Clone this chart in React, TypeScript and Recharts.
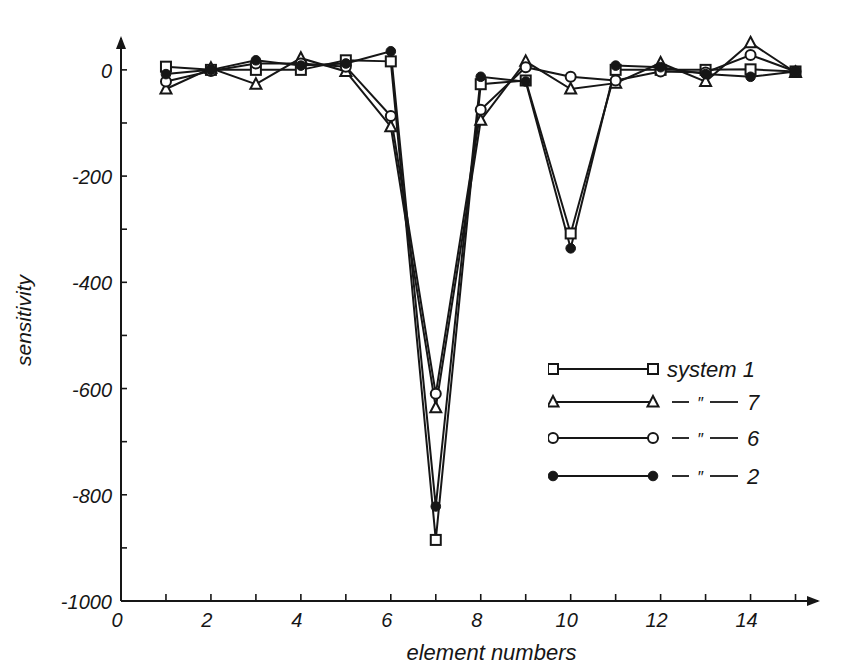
import React from 'react';
import { LineChart, Line, XAxis, YAxis } from 'recharts';

// element numbers along the x axis
const elements = [1, 2, 3, 4, 5, 6, 7, 8, 9, 10, 11, 12, 13, 14, 15];

// sensitivity, one list per system
const system1 = [6, 0, 0, 0, 18, 16, -885, -27, -20, -308, 0, 0, 0, 1, -3];
const system7 = [-36, 3, -27, 22, -3, -107, -636, -95, 16, -36, -25, 13, -22, 51, -5];
const system6 = [-22, -2, 12, 12, 6, -87, -610, -75, 5, -13, -20, -3, -5, 28, -3];
const system2 = [-8, 0, 18, 8, 12, 35, -822, -13, -22, -336, 8, 5, -8, -13, -3];

const xTicks = [0, 1, 2, 3, 4, 5, 6, 7, 8, 9, 10, 11, 12, 13, 14, 15];
const yTicks = [-1000, -900, -800, -700, -600, -500, -400, -300, -200, -100, 0];
const X_END = 15.5;
const Y_TOP = 60;

const legendRows = [
  { key: 's1', name: 'system 1', marker: 'square' },
  { key: 's7', name: '7', marker: 'triangle' },
  { key: 's6', name: '6', marker: 'circle' },
  { key: 's2', name: '2', marker: 'filled' },
];

const data = elements.map((e, i) => ({
  element: e,
  s1: system1[i],
  s7: system7[i],
  s6: system6[i],
  s2: system2[i],
}));

const INK = '#161616';
const FONT = "'Liberation Sans', Arial, sans-serif";

const Marker = ({ kind, cx, cy }: { kind: string; cx: number; cy: number }) => {
  if (kind === 'square')
    return <rect x={cx - 5} y={cy - 5} width={10} height={10} fill="#fff" stroke={INK} strokeWidth={2} />;
  if (kind === 'triangle')
    return <path d={`M${cx},${cy - 6} L${cx + 5.5},${cy + 4.5} L${cx - 5.5},${cy + 4.5} Z`} fill="#fff" stroke={INK} strokeWidth={2} />;
  if (kind === 'circle') return <circle cx={cx} cy={cy} r={5} fill="#fff" stroke={INK} strokeWidth={2} />;
  return <circle cx={cx} cy={cy} r={4.8} fill={INK} stroke={INK} strokeWidth={1} />;
};

const makeDot = (kind: string) => (p: any) => (
  <Marker key={`${kind}-${p.index}`} kind={kind} cx={p.cx} cy={p.cy} />
);

const XTick = (props: any) => {
  const { x, y, payload } = props;
  const v = payload.value;
  if (v === X_END) return <path d={`M${x + 2},${y} l-13,-5 l0,10 z`} fill={INK} />;
  return (
    <g>
      {v !== 0 && <line x1={x} y1={y} x2={x} y2={y - 7} stroke={INK} strokeWidth={1.6} />}
      {v % 2 === 0 && (
        <text x={x - 4} y={y + 26} textAnchor="middle" fontFamily={FONT} fontStyle="italic" fontSize={20} fill={INK}>
          {v}
        </text>
      )}
    </g>
  );
};

const YTick = (props: any) => {
  const { x, y, payload } = props;
  const v = payload.value;
  if (v === Y_TOP) return <path d={`M${x},${y - 2} l-5,13 l10,0 z`} fill={INK} />;
  return (
    <g>
      {v !== -1000 && <line x1={x} y1={y} x2={x + 6} y2={y} stroke={INK} strokeWidth={1.6} />}
      {v % 200 === 0 && (
        <text x={x - 9} y={y + 8} textAnchor="end" fontFamily={FONT} fontStyle="italic" fontSize={20} fill={INK}>
          {v}
        </text>
      )}
    </g>
  );
};

const LegendBox = () => (
  <svg width={240} height={140}>
    {legendRows.map((r, i) => {
      const ly = [14, 47, 83, 121][i];
      return (
        <g key={r.key}>
          <line x1={5} y1={ly} x2={105} y2={ly} stroke={INK} strokeWidth={2} />
          <Marker kind={r.marker} cx={5} cy={ly} />
          <Marker kind={r.marker} cx={105} cy={ly} />
          {i === 0 ? (
            <text x={119} y={ly + 8} fontFamily={FONT} fontStyle="italic" fontSize={22} fill={INK}>
              {r.name}
            </text>
          ) : (
            <g>
              <line x1={124} y1={ly} x2={141} y2={ly} stroke={INK} strokeWidth={1.8} />
              <text x={149} y={ly + 7} fontFamily={FONT} fontStyle="italic" fontSize={17} fill={INK}>
                {'\u2033'}
              </text>
              <line x1={162} y1={ly} x2={190} y2={ly} stroke={INK} strokeWidth={1.8} />
              <text x={199} y={ly + 8} fontFamily={FONT} fontStyle="italic" fontSize={22} fill={INK}>
                {r.name}
              </text>
            </g>
          )}
        </g>
      );
    })}
  </svg>
);

export default function App() {
  return (
    <div style={{ position: 'absolute', left: 0, top: 0, width: 848, height: 667, background: '#fff' }}>
      <LineChart width={848} height={667} data={data} margin={{ top: 38, right: 30, bottom: 0, left: 21 }}>
        <XAxis
          type="number"
          dataKey="element"
          domain={[0, X_END]}
          ticks={[...xTicks, X_END]}
          interval={0}
          height={66}
          tickSize={0}
          tickMargin={0}
          tick={<XTick />}
          axisLine={{ stroke: INK, strokeWidth: 2 }}
          label={{
            content: ({ viewBox }: any) => (
              <text
                x={viewBox.x + viewBox.width / 2 + 22}
                y={viewBox.y + 59}
                textAnchor="middle"
                fontFamily={FONT}
                fontStyle="italic"
                fontSize={22}
                fill={INK}
              >
                element numbers
              </text>
            ),
          }}
        />
        <YAxis
          type="number"
          domain={[-1000, Y_TOP]}
          ticks={[...yTicks, Y_TOP]}
          interval={0}
          width={100}
          tickSize={0}
          tickMargin={0}
          tick={<YTick />}
          axisLine={{ stroke: INK, strokeWidth: 2 }}
          label={{
            content: ({ viewBox }: any) => {
              const cx = viewBox.x + 10;
              const cy = viewBox.y + viewBox.height / 2 + 1;
              return (
                <text
                  x={cx}
                  y={cy}
                  transform={`rotate(-90 ${cx} ${cy})`}
                  textAnchor="middle"
                  fontFamily={FONT}
                  fontStyle="italic"
                  fontSize={21}
                  fill={INK}
                >
                  sensitivity
                </text>
              );
            },
          }}
        />
        <Line dataKey="s1" stroke={INK} strokeWidth={2} dot={makeDot('square')} isAnimationActive={false} />
        <Line dataKey="s7" stroke={INK} strokeWidth={2} dot={makeDot('triangle')} isAnimationActive={false} />
        <Line dataKey="s6" stroke={INK} strokeWidth={2} dot={makeDot('circle')} isAnimationActive={false} />
        <Line dataKey="s2" stroke={INK} strokeWidth={2} dot={makeDot('filled')} isAnimationActive={false} />
      </LineChart>
      <div style={{ position: 'absolute', left: 548, top: 355 }}>
        <LegendBox />
      </div>
    </div>
  );
}
